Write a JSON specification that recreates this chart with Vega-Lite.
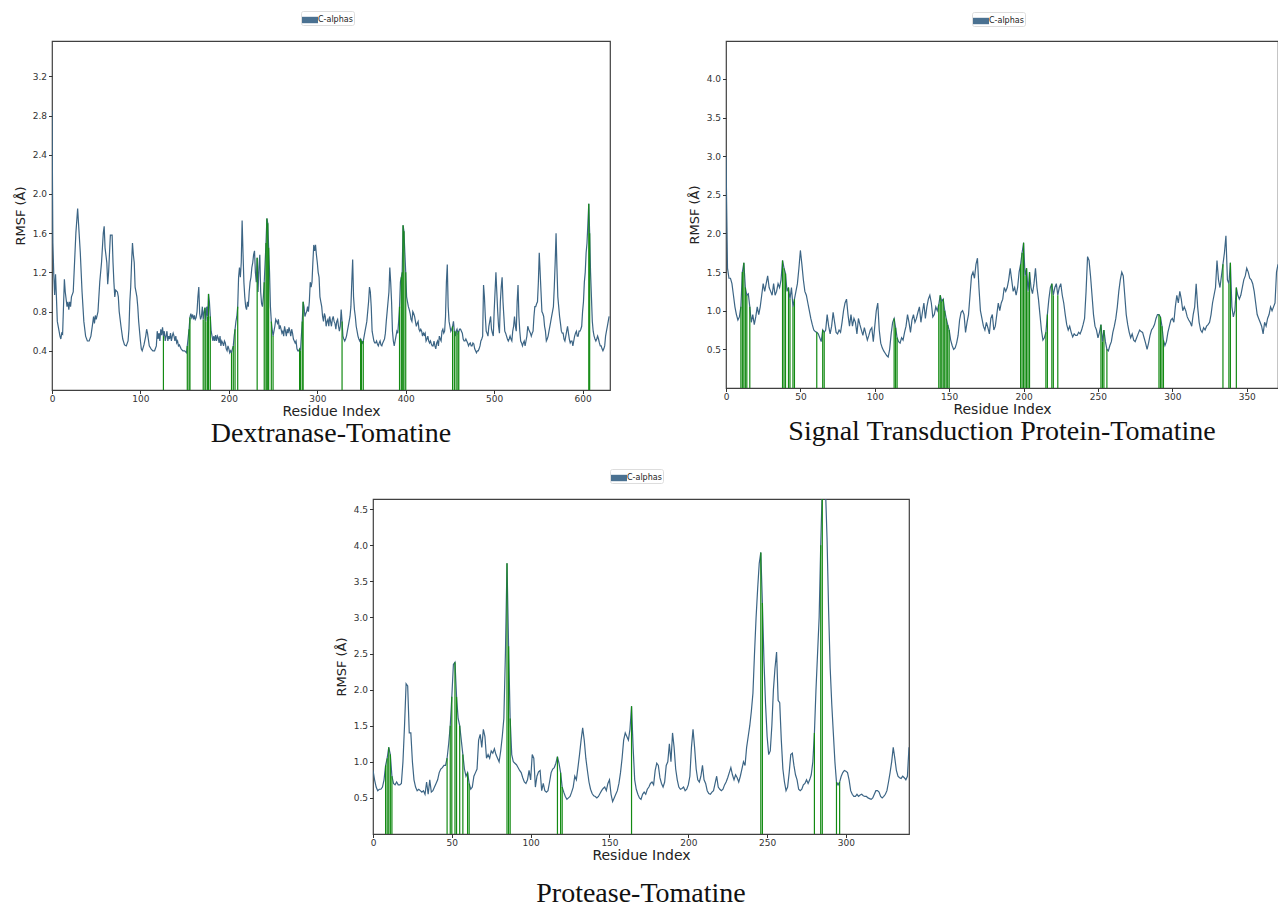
{
"$schema": "https://vega.github.io/schema/vega-lite/v6.json",
"background": "white",
"padding": {"left": 13, "top": 9, "right": 0, "bottom": 0},
"config": {
  "view": {"stroke": "#404040", "strokeWidth": 1.2},
  "axis": {"grid": false, "domain": false, "labelFont": "DejaVu Sans", "labelFontSize": 9, "labelColor": "#333", "tickColor": "#333", "tickSize": 3.5, "labelPadding": 1, "titleFont": "DejaVu Sans", "titleFontSize": 14, "titleFontWeight": "normal", "titleColor": "#222", "titlePadding": 1},
  "axisX": {"labelFlush": false},
  "axisY": {"titleFontSize": 13, "titlePadding": 5, "labelPadding": 2},
  "title": {"font": "Liberation Serif", "fontSize": 28, "fontWeight": "normal", "color": "#111", "anchor": "middle"},
  "legend": {"title": null, "orient": "none", "symbolType": "M-1,-0.4H1V0.4H-1Z", "symbolSize": 256, "labelFont": "DejaVu Sans", "labelFontSize": 8, "labelColor": "#222", "strokeColor": "#dddddd", "padding": 1, "cornerRadius": 2, "labelOffset": 0, "symbolStrokeWidth": 0}
},
"datasets": {
"p1": [
{"r":0,"v":2.85},{"r":1,"v":1.5},{"r":2,"v":1.18},{"r":3,"v":0.97},{"r":4,"v":1.18},{"r":5,"v":0.95},{"r":6,"v":0.7},{"r":8,"v":0.6},{"r":9,"v":0.55},{"r":10,"v":0.52},{"r":11,"v":0.58},{"r":12,"v":0.57},{"r":14,"v":1.13},{"r":15,"v":1.0},{"r":17,"v":0.85},{"r":18,"v":0.9},{"r":19,"v":0.82},{"r":20,"v":0.9},{"r":21,"v":0.85},{"r":22,"v":0.95},{"r":24,"v":1.0},{"r":25,"v":1.2},{"r":27,"v":1.6},{"r":29,"v":1.85},{"r":30,"v":1.7},{"r":32,"v":1.4},{"r":34,"v":1.0},{"r":36,"v":0.7},{"r":38,"v":0.55},{"r":40,"v":0.5},{"r":42,"v":0.5},{"r":44,"v":0.55},{"r":46,"v":0.68},{"r":47,"v":0.75},{"r":48,"v":0.68},{"r":49,"v":0.76},{"r":50,"v":0.72},{"r":52,"v":0.8},{"r":54,"v":1.1},{"r":56,"v":1.3},{"r":58,"v":1.6},{"r":59,"v":1.67},{"r":60,"v":1.45},{"r":62,"v":1.3},{"r":63,"v":1.08},{"r":64,"v":1.2},{"r":66,"v":1.58},{"r":68,"v":1.58},{"r":69,"v":1.3},{"r":70,"v":1.1},{"r":71,"v":0.95},{"r":72,"v":1.02},{"r":74,"v":1.0},{"r":75,"v":0.95},{"r":76,"v":0.8},{"r":78,"v":0.65},{"r":80,"v":0.52},{"r":82,"v":0.46},{"r":84,"v":0.45},{"r":86,"v":0.5},{"r":87,"v":0.62},{"r":88,"v":0.9},{"r":89,"v":1.05},{"r":90,"v":1.3},{"r":91,"v":1.5},{"r":92,"v":1.38},{"r":93,"v":1.3},{"r":94,"v":1.05},{"r":95,"v":1.0},{"r":96,"v":0.95},{"r":97,"v":0.85},{"r":98,"v":0.7},{"r":100,"v":0.5},{"r":101,"v":0.42},{"r":102,"v":0.4},{"r":104,"v":0.46},{"r":106,"v":0.55},{"r":107,"v":0.62},{"r":108,"v":0.58},{"r":110,"v":0.45},{"r":112,"v":0.42},{"r":114,"v":0.4},{"r":116,"v":0.4},{"r":118,"v":0.45},{"r":119,"v":0.6},{"r":120,"v":0.52},{"r":121,"v":0.58},{"r":122,"v":0.5},{"r":123,"v":0.62},{"r":124,"v":0.56},{"r":125,"v":0.64},{"r":126,"v":0.55},{"r":127,"v":0.6},{"r":128,"v":0.5},{"r":129,"v":0.55},{"r":130,"v":0.6},{"r":131,"v":0.5},{"r":132,"v":0.55},{"r":133,"v":0.52},{"r":134,"v":0.58},{"r":135,"v":0.5},{"r":136,"v":0.55},{"r":137,"v":0.58},{"r":138,"v":0.55},{"r":139,"v":0.5},{"r":140,"v":0.55},{"r":141,"v":0.48},{"r":142,"v":0.5},{"r":143,"v":0.45},{"r":144,"v":0.46},{"r":146,"v":0.42},{"r":148,"v":0.4},{"r":150,"v":0.4},{"r":152,"v":0.38},{"r":153,"v":0.45},{"r":155,"v":0.62},{"r":156,"v":0.74},{"r":157,"v":0.78},{"r":158,"v":0.74},{"r":159,"v":0.77},{"r":160,"v":0.72},{"r":161,"v":0.76},{"r":162,"v":0.72},{"r":163,"v":0.74},{"r":164,"v":0.8},{"r":165,"v":0.95},{"r":166,"v":1.05},{"r":167,"v":0.78},{"r":168,"v":0.72},{"r":169,"v":0.75},{"r":170,"v":0.85},{"r":171,"v":0.72},{"r":172,"v":0.8},{"r":173,"v":0.84},{"r":174,"v":0.7},{"r":175,"v":0.85},{"r":176,"v":0.75},{"r":177,"v":0.98},{"r":178,"v":0.9},{"r":179,"v":0.75},{"r":180,"v":0.6},{"r":181,"v":0.55},{"r":182,"v":0.5},{"r":183,"v":0.55},{"r":184,"v":0.5},{"r":185,"v":0.56},{"r":186,"v":0.5},{"r":187,"v":0.55},{"r":188,"v":0.53},{"r":189,"v":0.48},{"r":190,"v":0.55},{"r":191,"v":0.45},{"r":192,"v":0.5},{"r":193,"v":0.48},{"r":194,"v":0.45},{"r":195,"v":0.5},{"r":196,"v":0.48},{"r":197,"v":0.42},{"r":198,"v":0.4},{"r":199,"v":0.45},{"r":200,"v":0.42},{"r":201,"v":0.38},{"r":202,"v":0.4},{"r":203,"v":0.38},{"r":204,"v":0.42},{"r":205,"v":0.45},{"r":206,"v":0.55},{"r":207,"v":0.62},{"r":208,"v":0.7},{"r":209,"v":0.75},{"r":210,"v":0.85},{"r":211,"v":1.15},{"r":212,"v":1.25},{"r":213,"v":1.15},{"r":214,"v":1.3},{"r":215,"v":1.73},{"r":216,"v":1.4},{"r":217,"v":1.1},{"r":218,"v":0.95},{"r":219,"v":0.85},{"r":220,"v":0.82},{"r":221,"v":0.9},{"r":222,"v":0.85},{"r":223,"v":1.0},{"r":224,"v":1.1},{"r":225,"v":1.15},{"r":226,"v":1.25},{"r":227,"v":1.3},{"r":228,"v":1.38},{"r":229,"v":1.42},{"r":230,"v":1.2},{"r":231,"v":1.1},{"r":232,"v":1.35},{"r":233,"v":1.0},{"r":234,"v":1.25},{"r":235,"v":1.38},{"r":236,"v":1.0},{"r":237,"v":0.88},{"r":238,"v":0.85},{"r":239,"v":0.95},{"r":240,"v":1.1},{"r":241,"v":1.3},{"r":242,"v":1.5},{"r":243,"v":1.75},{"r":244,"v":1.7},{"r":245,"v":1.45},{"r":246,"v":1.2},{"r":247,"v":0.85},{"r":248,"v":0.7},{"r":249,"v":0.62},{"r":250,"v":0.55},{"r":251,"v":0.6},{"r":252,"v":0.65},{"r":253,"v":0.72},{"r":254,"v":0.7},{"r":255,"v":0.68},{"r":256,"v":0.72},{"r":257,"v":0.62},{"r":258,"v":0.66},{"r":259,"v":0.62},{"r":260,"v":0.58},{"r":261,"v":0.6},{"r":262,"v":0.55},{"r":263,"v":0.65},{"r":264,"v":0.6},{"r":265,"v":0.55},{"r":266,"v":0.62},{"r":267,"v":0.58},{"r":268,"v":0.64},{"r":269,"v":0.6},{"r":270,"v":0.55},{"r":271,"v":0.62},{"r":272,"v":0.58},{"r":273,"v":0.52},{"r":274,"v":0.5},{"r":275,"v":0.48},{"r":276,"v":0.5},{"r":277,"v":0.42},{"r":278,"v":0.4},{"r":279,"v":0.4},{"r":280,"v":0.42},{"r":281,"v":0.4},{"r":282,"v":0.55},{"r":283,"v":0.7},{"r":284,"v":0.9},{"r":285,"v":0.85},{"r":286,"v":0.75},{"r":287,"v":0.78},{"r":288,"v":0.8},{"r":289,"v":0.85},{"r":290,"v":0.8},{"r":291,"v":0.9},{"r":292,"v":1.1},{"r":293,"v":1.05},{"r":294,"v":1.1},{"r":295,"v":1.3},{"r":296,"v":1.48},{"r":297,"v":1.42},{"r":298,"v":1.48},{"r":299,"v":1.38},{"r":300,"v":1.3},{"r":301,"v":1.2},{"r":302,"v":1.15},{"r":303,"v":0.95},{"r":304,"v":0.9},{"r":305,"v":0.85},{"r":306,"v":0.75},{"r":307,"v":0.7},{"r":308,"v":0.78},{"r":309,"v":0.75},{"r":310,"v":0.65},{"r":311,"v":0.7},{"r":312,"v":0.72},{"r":313,"v":0.65},{"r":314,"v":0.75},{"r":315,"v":0.7},{"r":316,"v":0.65},{"r":317,"v":0.72},{"r":318,"v":0.75},{"r":319,"v":0.7},{"r":320,"v":0.68},{"r":321,"v":0.62},{"r":322,"v":0.7},{"r":323,"v":0.72},{"r":324,"v":0.65},{"r":325,"v":0.6},{"r":326,"v":0.65},{"r":327,"v":0.82},{"r":328,"v":0.7},{"r":329,"v":0.55},{"r":330,"v":0.52},{"r":331,"v":0.5},{"r":332,"v":0.52},{"r":333,"v":0.55},{"r":334,"v":0.6},{"r":335,"v":0.65},{"r":336,"v":0.7},{"r":337,"v":0.75},{"r":338,"v":0.85},{"r":339,"v":1.1},{"r":340,"v":1.33},{"r":341,"v":0.95},{"r":342,"v":0.82},{"r":343,"v":0.75},{"r":344,"v":0.65},{"r":345,"v":0.6},{"r":346,"v":0.55},{"r":347,"v":0.52},{"r":348,"v":0.5},{"r":349,"v":0.52},{"r":350,"v":0.5},{"r":351,"v":0.48},{"r":352,"v":0.5},{"r":353,"v":0.55},{"r":354,"v":0.6},{"r":355,"v":0.65},{"r":356,"v":0.7},{"r":357,"v":0.8},{"r":358,"v":0.9},{"r":359,"v":1.05},{"r":360,"v":1.0},{"r":361,"v":0.85},{"r":362,"v":0.6},{"r":363,"v":0.55},{"r":364,"v":0.5},{"r":365,"v":0.48},{"r":366,"v":0.48},{"r":367,"v":0.5},{"r":368,"v":0.47},{"r":369,"v":0.45},{"r":370,"v":0.48},{"r":371,"v":0.5},{"r":372,"v":0.46},{"r":373,"v":0.45},{"r":374,"v":0.48},{"r":375,"v":0.5},{"r":376,"v":0.52},{"r":377,"v":0.58},{"r":378,"v":0.7},{"r":379,"v":0.8},{"r":380,"v":0.9},{"r":381,"v":1.0},{"r":382,"v":1.25},{"r":383,"v":1.1},{"r":384,"v":0.9},{"r":385,"v":0.6},{"r":386,"v":0.5},{"r":387,"v":0.45},{"r":388,"v":0.5},{"r":389,"v":0.55},{"r":390,"v":0.6},{"r":391,"v":0.58},{"r":392,"v":0.7},{"r":393,"v":0.85},{"r":394,"v":1.1},{"r":395,"v":1.15},{"r":396,"v":1.2},{"r":397,"v":1.68},{"r":398,"v":1.62},{"r":399,"v":1.4},{"r":400,"v":1.2},{"r":401,"v":0.95},{"r":402,"v":0.9},{"r":403,"v":0.85},{"r":404,"v":0.82},{"r":405,"v":0.78},{"r":406,"v":0.72},{"r":407,"v":0.7},{"r":408,"v":0.8},{"r":409,"v":0.78},{"r":410,"v":0.75},{"r":411,"v":0.7},{"r":412,"v":0.65},{"r":413,"v":0.68},{"r":414,"v":0.7},{"r":415,"v":0.62},{"r":416,"v":0.6},{"r":417,"v":0.62},{"r":418,"v":0.6},{"r":419,"v":0.55},{"r":420,"v":0.58},{"r":421,"v":0.56},{"r":422,"v":0.58},{"r":423,"v":0.5},{"r":424,"v":0.52},{"r":425,"v":0.55},{"r":426,"v":0.5},{"r":427,"v":0.48},{"r":428,"v":0.5},{"r":429,"v":0.47},{"r":430,"v":0.45},{"r":431,"v":0.45},{"r":432,"v":0.5},{"r":433,"v":0.45},{"r":434,"v":0.42},{"r":435,"v":0.48},{"r":436,"v":0.5},{"r":437,"v":0.45},{"r":438,"v":0.55},{"r":439,"v":0.52},{"r":440,"v":0.5},{"r":441,"v":0.6},{"r":442,"v":0.62},{"r":443,"v":0.58},{"r":444,"v":0.6},{"r":445,"v":0.75},{"r":446,"v":1.1},{"r":447,"v":1.28},{"r":448,"v":0.85},{"r":449,"v":0.7},{"r":450,"v":0.65},{"r":451,"v":0.6},{"r":452,"v":0.62},{"r":453,"v":0.65},{"r":454,"v":0.7},{"r":455,"v":0.6},{"r":456,"v":0.55},{"r":457,"v":0.6},{"r":458,"v":0.62},{"r":459,"v":0.58},{"r":460,"v":0.6},{"r":461,"v":0.62},{"r":462,"v":0.62},{"r":463,"v":0.6},{"r":464,"v":0.58},{"r":465,"v":0.52},{"r":466,"v":0.5},{"r":467,"v":0.5},{"r":468,"v":0.52},{"r":469,"v":0.5},{"r":470,"v":0.48},{"r":471,"v":0.45},{"r":472,"v":0.47},{"r":473,"v":0.48},{"r":474,"v":0.45},{"r":475,"v":0.45},{"r":476,"v":0.48},{"r":477,"v":0.47},{"r":478,"v":0.42},{"r":479,"v":0.4},{"r":480,"v":0.38},{"r":481,"v":0.4},{"r":482,"v":0.4},{"r":483,"v":0.42},{"r":484,"v":0.45},{"r":485,"v":0.5},{"r":486,"v":0.52},{"r":487,"v":0.55},{"r":488,"v":1.07},{"r":489,"v":0.95},{"r":490,"v":0.75},{"r":491,"v":0.6},{"r":492,"v":0.58},{"r":493,"v":0.55},{"r":494,"v":0.65},{"r":495,"v":0.7},{"r":496,"v":0.75},{"r":497,"v":0.62},{"r":498,"v":0.58},{"r":499,"v":0.55},{"r":500,"v":0.8},{"r":501,"v":1.0},{"r":502,"v":1.2},{"r":503,"v":1.0},{"r":504,"v":0.8},{"r":505,"v":0.65},{"r":506,"v":0.58},{"r":507,"v":0.9},{"r":508,"v":1.05},{"r":509,"v":1.15},{"r":510,"v":0.9},{"r":511,"v":0.75},{"r":512,"v":0.6},{"r":513,"v":0.58},{"r":514,"v":0.55},{"r":515,"v":0.52},{"r":516,"v":0.5},{"r":517,"v":0.52},{"r":518,"v":0.55},{"r":519,"v":0.52},{"r":520,"v":0.5},{"r":521,"v":0.6},{"r":522,"v":0.65},{"r":523,"v":0.75},{"r":524,"v":0.65},{"r":525,"v":0.6},{"r":526,"v":0.9},{"r":527,"v":1.07},{"r":528,"v":0.75},{"r":529,"v":0.6},{"r":530,"v":0.5},{"r":531,"v":0.48},{"r":532,"v":0.45},{"r":533,"v":0.48},{"r":534,"v":0.5},{"r":535,"v":0.45},{"r":536,"v":0.5},{"r":537,"v":0.55},{"r":538,"v":0.65},{"r":539,"v":0.62},{"r":540,"v":0.6},{"r":541,"v":0.58},{"r":542,"v":0.55},{"r":543,"v":0.58},{"r":544,"v":0.6},{"r":545,"v":0.75},{"r":546,"v":0.85},{"r":547,"v":0.85},{"r":548,"v":0.88},{"r":549,"v":0.9},{"r":550,"v":1.1},{"r":551,"v":1.4},{"r":552,"v":1.2},{"r":553,"v":1.0},{"r":554,"v":0.8},{"r":555,"v":0.78},{"r":556,"v":0.75},{"r":557,"v":0.65},{"r":558,"v":0.6},{"r":559,"v":0.5},{"r":560,"v":0.52},{"r":561,"v":0.55},{"r":562,"v":0.6},{"r":563,"v":0.65},{"r":564,"v":0.7},{"r":565,"v":0.75},{"r":566,"v":0.8},{"r":567,"v":0.85},{"r":568,"v":1.05},{"r":569,"v":1.3},{"r":570,"v":1.6},{"r":571,"v":1.25},{"r":572,"v":0.95},{"r":573,"v":0.85},{"r":574,"v":0.75},{"r":575,"v":0.68},{"r":576,"v":0.6},{"r":577,"v":0.58},{"r":578,"v":0.58},{"r":579,"v":0.52},{"r":580,"v":0.5},{"r":581,"v":0.55},{"r":582,"v":0.6},{"r":583,"v":0.65},{"r":584,"v":0.58},{"r":585,"v":0.52},{"r":586,"v":0.48},{"r":587,"v":0.5},{"r":588,"v":0.5},{"r":589,"v":0.45},{"r":590,"v":0.5},{"r":591,"v":0.55},{"r":592,"v":0.58},{"r":593,"v":0.6},{"r":594,"v":0.55},{"r":595,"v":0.55},{"r":596,"v":0.6},{"r":597,"v":0.6},{"r":598,"v":0.62},{"r":599,"v":0.65},{"r":600,"v":0.8},{"r":601,"v":0.9},{"r":602,"v":1.1},{"r":603,"v":1.2},{"r":604,"v":1.4},{"r":605,"v":1.5},{"r":606,"v":1.7},{"r":607,"v":1.9},{"r":608,"v":1.6},{"r":609,"v":1.2},{"r":610,"v":0.95},{"r":611,"v":0.7},{"r":612,"v":0.6},{"r":613,"v":0.55},{"r":614,"v":0.52},{"r":615,"v":0.5},{"r":616,"v":0.52},{"r":617,"v":0.55},{"r":618,"v":0.52},{"r":619,"v":0.48},{"r":620,"v":0.45},{"r":621,"v":0.45},{"r":622,"v":0.42},{"r":623,"v":0.4},{"r":624,"v":0.42},{"r":625,"v":0.45},{"r":626,"v":0.55},{"r":627,"v":0.6},{"r":628,"v":0.65},{"r":629,"v":0.7},{"r":630,"v":0.75}
],
"b1": [
{"r":126,"v":0.55},{"r":153,"v":0.45},{"r":155,"v":0.62},{"r":156,"v":0.74},{"r":171,"v":0.72},{"r":173,"v":0.84},{"r":174,"v":0.7},{"r":176,"v":0.75},{"r":177,"v":0.98},{"r":179,"v":0.75},{"r":203,"v":0.38},{"r":205,"v":0.45},{"r":207,"v":0.62},{"r":210,"v":0.85},{"r":232,"v":1.35},{"r":240,"v":1.1},{"r":242,"v":1.5},{"r":243,"v":1.75},{"r":244,"v":1.7},{"r":245,"v":1.45},{"r":248,"v":0.7},{"r":250,"v":0.55},{"r":280,"v":0.42},{"r":281,"v":0.4},{"r":283,"v":0.7},{"r":284,"v":0.9},{"r":328,"v":0.7},{"r":349,"v":0.52},{"r":350,"v":0.5},{"r":352,"v":0.5},{"r":393,"v":0.85},{"r":395,"v":1.15},{"r":396,"v":1.2},{"r":397,"v":1.68},{"r":398,"v":1.62},{"r":400,"v":1.2},{"r":453,"v":0.65},{"r":455,"v":0.6},{"r":457,"v":0.6},{"r":459,"v":0.58},{"r":460,"v":0.6},{"r":607,"v":1.9},{"r":608,"v":1.6}
],
"p2": [
{"r":0,"v":3.0},{"r":1,"v":1.55},{"r":2,"v":1.42},{"r":3,"v":1.42},{"r":4,"v":1.35},{"r":5,"v":1.2},{"r":6,"v":1.05},{"r":7,"v":0.95},{"r":8,"v":0.88},{"r":9,"v":0.92},{"r":10,"v":1.05},{"r":11,"v":1.5},{"r":12,"v":1.62},{"r":13,"v":1.3},{"r":14,"v":1.2},{"r":15,"v":1.22},{"r":16,"v":1.05},{"r":17,"v":0.85},{"r":18,"v":0.95},{"r":19,"v":0.82},{"r":20,"v":0.92},{"r":21,"v":1.05},{"r":22,"v":0.95},{"r":23,"v":1.05},{"r":24,"v":1.2},{"r":25,"v":1.35},{"r":26,"v":1.25},{"r":27,"v":1.35},{"r":28,"v":1.45},{"r":29,"v":1.3},{"r":30,"v":1.25},{"r":31,"v":1.2},{"r":32,"v":1.35},{"r":33,"v":1.2},{"r":34,"v":1.25},{"r":35,"v":1.35},{"r":36,"v":1.3},{"r":37,"v":1.4},{"r":38,"v":1.65},{"r":39,"v":1.55},{"r":40,"v":1.48},{"r":41,"v":1.25},{"r":42,"v":1.3},{"r":43,"v":1.15},{"r":44,"v":1.3},{"r":45,"v":1.05},{"r":46,"v":1.15},{"r":47,"v":1.25},{"r":48,"v":1.35},{"r":49,"v":1.55},{"r":50,"v":1.78},{"r":51,"v":1.6},{"r":52,"v":1.4},{"r":53,"v":1.25},{"r":54,"v":1.2},{"r":55,"v":1.1},{"r":56,"v":1.0},{"r":57,"v":0.9},{"r":58,"v":0.82},{"r":59,"v":0.75},{"r":60,"v":0.73},{"r":61,"v":0.72},{"r":62,"v":0.7},{"r":63,"v":0.65},{"r":64,"v":0.6},{"r":65,"v":0.75},{"r":66,"v":0.72},{"r":67,"v":0.75},{"r":68,"v":0.95},{"r":69,"v":0.8},{"r":70,"v":0.7},{"r":71,"v":0.8},{"r":72,"v":0.98},{"r":73,"v":0.85},{"r":74,"v":0.72},{"r":75,"v":0.7},{"r":76,"v":0.75},{"r":77,"v":0.72},{"r":78,"v":0.85},{"r":79,"v":1.0},{"r":80,"v":1.1},{"r":81,"v":1.15},{"r":82,"v":0.95},{"r":83,"v":0.8},{"r":84,"v":0.95},{"r":85,"v":0.8},{"r":86,"v":0.9},{"r":87,"v":0.85},{"r":88,"v":0.7},{"r":89,"v":0.9},{"r":90,"v":0.82},{"r":91,"v":0.75},{"r":92,"v":0.68},{"r":93,"v":0.78},{"r":94,"v":0.7},{"r":95,"v":0.62},{"r":96,"v":0.68},{"r":97,"v":0.75},{"r":98,"v":0.78},{"r":99,"v":0.6},{"r":100,"v":0.8},{"r":101,"v":1.0},{"r":102,"v":1.1},{"r":103,"v":0.75},{"r":104,"v":0.58},{"r":105,"v":0.52},{"r":106,"v":0.48},{"r":107,"v":0.45},{"r":108,"v":0.42},{"r":109,"v":0.4},{"r":110,"v":0.5},{"r":111,"v":0.7},{"r":112,"v":0.85},{"r":113,"v":0.9},{"r":114,"v":0.78},{"r":115,"v":0.65},{"r":116,"v":0.6},{"r":117,"v":0.58},{"r":118,"v":0.65},{"r":119,"v":0.62},{"r":120,"v":0.72},{"r":121,"v":0.8},{"r":122,"v":0.95},{"r":123,"v":0.85},{"r":124,"v":0.72},{"r":125,"v":0.88},{"r":126,"v":0.95},{"r":127,"v":0.85},{"r":128,"v":0.9},{"r":129,"v":0.98},{"r":130,"v":1.05},{"r":131,"v":0.85},{"r":132,"v":0.98},{"r":133,"v":1.1},{"r":134,"v":0.9},{"r":135,"v":1.05},{"r":136,"v":1.15},{"r":137,"v":1.2},{"r":138,"v":1.1},{"r":139,"v":0.92},{"r":140,"v":0.95},{"r":141,"v":1.05},{"r":142,"v":1.0},{"r":143,"v":1.08},{"r":144,"v":1.2},{"r":145,"v":1.12},{"r":146,"v":1.15},{"r":147,"v":1.0},{"r":148,"v":0.9},{"r":149,"v":0.82},{"r":150,"v":0.75},{"r":151,"v":0.62},{"r":152,"v":0.55},{"r":153,"v":0.5},{"r":154,"v":0.52},{"r":155,"v":0.58},{"r":156,"v":0.68},{"r":157,"v":0.88},{"r":158,"v":0.98},{"r":159,"v":1.0},{"r":160,"v":0.95},{"r":161,"v":0.72},{"r":162,"v":0.85},{"r":163,"v":0.95},{"r":164,"v":1.2},{"r":165,"v":1.45},{"r":166,"v":1.5},{"r":167,"v":1.42},{"r":168,"v":1.6},{"r":169,"v":1.68},{"r":170,"v":1.3},{"r":171,"v":1.0},{"r":172,"v":0.9},{"r":173,"v":0.8},{"r":174,"v":0.75},{"r":175,"v":0.85},{"r":176,"v":0.78},{"r":177,"v":0.7},{"r":178,"v":0.9},{"r":179,"v":0.95},{"r":180,"v":0.75},{"r":181,"v":0.8},{"r":182,"v":0.95},{"r":183,"v":1.1},{"r":184,"v":1.0},{"r":185,"v":1.1},{"r":186,"v":1.15},{"r":187,"v":1.3},{"r":188,"v":1.25},{"r":189,"v":1.3},{"r":190,"v":1.4},{"r":191,"v":1.55},{"r":192,"v":1.4},{"r":193,"v":1.25},{"r":194,"v":1.3},{"r":195,"v":1.2},{"r":196,"v":1.3},{"r":197,"v":1.5},{"r":198,"v":1.6},{"r":199,"v":1.75},{"r":200,"v":1.88},{"r":201,"v":1.45},{"r":202,"v":1.55},{"r":203,"v":1.25},{"r":204,"v":1.5},{"r":205,"v":1.3},{"r":206,"v":1.22},{"r":207,"v":1.35},{"r":208,"v":1.55},{"r":209,"v":1.3},{"r":210,"v":1.15},{"r":211,"v":0.95},{"r":212,"v":0.75},{"r":213,"v":0.62},{"r":214,"v":0.65},{"r":215,"v":0.72},{"r":216,"v":0.95},{"r":217,"v":1.15},{"r":218,"v":1.3},{"r":219,"v":1.35},{"r":220,"v":1.2},{"r":221,"v":1.3},{"r":222,"v":1.35},{"r":223,"v":1.2},{"r":224,"v":1.3},{"r":225,"v":1.35},{"r":226,"v":1.2},{"r":227,"v":1.1},{"r":228,"v":0.95},{"r":229,"v":0.82},{"r":230,"v":0.75},{"r":231,"v":0.8},{"r":232,"v":0.72},{"r":233,"v":0.66},{"r":234,"v":0.7},{"r":235,"v":0.68},{"r":236,"v":0.68},{"r":237,"v":0.72},{"r":238,"v":0.7},{"r":239,"v":0.75},{"r":240,"v":0.82},{"r":241,"v":0.9},{"r":242,"v":1.25},{"r":243,"v":1.7},{"r":244,"v":1.65},{"r":245,"v":1.45},{"r":246,"v":1.2},{"r":247,"v":0.95},{"r":248,"v":0.8},{"r":249,"v":0.75},{"r":250,"v":0.65},{"r":251,"v":0.72},{"r":252,"v":0.82},{"r":253,"v":0.6},{"r":254,"v":0.75},{"r":255,"v":0.6},{"r":256,"v":0.5},{"r":257,"v":0.48},{"r":258,"v":0.55},{"r":259,"v":0.6},{"r":260,"v":0.72},{"r":261,"v":0.8},{"r":262,"v":0.9},{"r":263,"v":1.05},{"r":264,"v":1.25},{"r":265,"v":1.4},{"r":266,"v":1.5},{"r":267,"v":1.45},{"r":268,"v":1.2},{"r":269,"v":0.95},{"r":270,"v":0.82},{"r":271,"v":0.72},{"r":272,"v":0.65},{"r":273,"v":0.7},{"r":274,"v":0.62},{"r":275,"v":0.6},{"r":276,"v":0.65},{"r":277,"v":0.7},{"r":278,"v":0.75},{"r":279,"v":0.73},{"r":280,"v":0.72},{"r":281,"v":0.65},{"r":282,"v":0.58},{"r":283,"v":0.5},{"r":284,"v":0.58},{"r":285,"v":0.68},{"r":286,"v":0.75},{"r":287,"v":0.78},{"r":288,"v":0.82},{"r":289,"v":0.9},{"r":290,"v":0.95},{"r":291,"v":0.95},{"r":292,"v":0.92},{"r":293,"v":0.8},{"r":294,"v":0.62},{"r":295,"v":0.55},{"r":296,"v":0.6},{"r":297,"v":0.72},{"r":298,"v":0.8},{"r":299,"v":0.88},{"r":300,"v":0.9},{"r":301,"v":0.85},{"r":302,"v":1.05},{"r":303,"v":1.2},{"r":304,"v":1.1},{"r":305,"v":1.25},{"r":306,"v":1.15},{"r":307,"v":1.0},{"r":308,"v":1.05},{"r":309,"v":1.0},{"r":310,"v":0.92},{"r":311,"v":0.88},{"r":312,"v":0.85},{"r":313,"v":0.8},{"r":314,"v":0.95},{"r":315,"v":1.05},{"r":316,"v":1.35},{"r":317,"v":1.05},{"r":318,"v":0.85},{"r":319,"v":0.75},{"r":320,"v":0.72},{"r":321,"v":0.78},{"r":322,"v":0.75},{"r":323,"v":0.8},{"r":324,"v":0.82},{"r":325,"v":0.85},{"r":326,"v":0.95},{"r":327,"v":1.1},{"r":328,"v":1.2},{"r":329,"v":1.3},{"r":330,"v":1.65},{"r":331,"v":1.4},{"r":332,"v":1.3},{"r":333,"v":1.45},{"r":334,"v":1.6},{"r":335,"v":1.75},{"r":336,"v":1.97},{"r":337,"v":1.4},{"r":338,"v":1.35},{"r":339,"v":1.62},{"r":340,"v":1.05},{"r":341,"v":0.92},{"r":342,"v":1.0},{"r":343,"v":1.3},{"r":344,"v":1.2},{"r":345,"v":1.15},{"r":346,"v":1.2},{"r":347,"v":1.3},{"r":348,"v":1.4},{"r":349,"v":1.45},{"r":350,"v":1.55},{"r":351,"v":1.5},{"r":352,"v":1.42},{"r":353,"v":1.4},{"r":354,"v":1.35},{"r":355,"v":1.25},{"r":356,"v":1.1},{"r":357,"v":0.95},{"r":358,"v":0.9},{"r":359,"v":0.85},{"r":360,"v":0.8},{"r":361,"v":0.7},{"r":362,"v":0.85},{"r":363,"v":0.8},{"r":364,"v":0.9},{"r":365,"v":0.95},{"r":366,"v":1.05},{"r":367,"v":1.0},{"r":368,"v":1.05},{"r":369,"v":1.1},{"r":370,"v":1.5},{"r":371,"v":1.6}
],
"b2": [
{"r":10,"v":1.05},{"r":11,"v":1.5},{"r":12,"v":1.62},{"r":13,"v":1.3},{"r":14,"v":1.2},{"r":16,"v":1.05},{"r":38,"v":1.65},{"r":39,"v":1.55},{"r":40,"v":1.48},{"r":42,"v":1.3},{"r":43,"v":1.15},{"r":45,"v":1.05},{"r":46,"v":1.15},{"r":61,"v":0.72},{"r":65,"v":0.75},{"r":66,"v":0.72},{"r":113,"v":0.9},{"r":114,"v":0.78},{"r":115,"v":0.65},{"r":143,"v":1.08},{"r":144,"v":1.2},{"r":145,"v":1.12},{"r":146,"v":1.15},{"r":147,"v":1.0},{"r":148,"v":0.9},{"r":149,"v":0.82},{"r":150,"v":0.75},{"r":198,"v":1.6},{"r":199,"v":1.75},{"r":200,"v":1.88},{"r":201,"v":1.45},{"r":202,"v":1.55},{"r":203,"v":1.25},{"r":204,"v":1.5},{"r":215,"v":0.72},{"r":216,"v":0.95},{"r":219,"v":1.35},{"r":220,"v":1.2},{"r":223,"v":1.2},{"r":252,"v":0.82},{"r":253,"v":0.6},{"r":254,"v":0.75},{"r":256,"v":0.5},{"r":291,"v":0.95},{"r":292,"v":0.92},{"r":293,"v":0.8},{"r":294,"v":0.62},{"r":334,"v":1.6},{"r":338,"v":1.35},{"r":339,"v":1.62},{"r":343,"v":1.3}
],
"p3": [
{"r":0,"v":0.88},{"r":1,"v":0.75},{"r":2,"v":0.65},{"r":3,"v":0.6},{"r":4,"v":0.62},{"r":5,"v":0.62},{"r":6,"v":0.65},{"r":7,"v":0.75},{"r":8,"v":0.95},{"r":9,"v":1.05},{"r":10,"v":1.2},{"r":11,"v":1.1},{"r":12,"v":0.8},{"r":13,"v":0.7},{"r":14,"v":0.68},{"r":15,"v":0.72},{"r":16,"v":0.68},{"r":17,"v":0.68},{"r":18,"v":0.7},{"r":19,"v":1.0},{"r":20,"v":1.5},{"r":21,"v":2.08},{"r":22,"v":2.05},{"r":23,"v":1.4},{"r":24,"v":1.4},{"r":25,"v":1.0},{"r":26,"v":0.75},{"r":27,"v":0.65},{"r":28,"v":0.6},{"r":29,"v":0.62},{"r":30,"v":0.6},{"r":31,"v":0.58},{"r":32,"v":0.6},{"r":33,"v":0.55},{"r":34,"v":0.72},{"r":35,"v":0.55},{"r":36,"v":0.75},{"r":37,"v":0.58},{"r":38,"v":0.6},{"r":39,"v":0.65},{"r":40,"v":0.7},{"r":41,"v":0.75},{"r":42,"v":0.85},{"r":43,"v":0.9},{"r":44,"v":0.92},{"r":45,"v":0.95},{"r":46,"v":0.95},{"r":47,"v":1.05},{"r":48,"v":1.25},{"r":49,"v":1.5},{"r":50,"v":1.9},{"r":51,"v":2.35},{"r":52,"v":2.38},{"r":53,"v":1.9},{"r":54,"v":1.6},{"r":55,"v":1.5},{"r":56,"v":1.3},{"r":57,"v":1.1},{"r":58,"v":0.9},{"r":59,"v":0.8},{"r":60,"v":0.85},{"r":61,"v":0.7},{"r":62,"v":0.62},{"r":63,"v":0.65},{"r":64,"v":0.8},{"r":65,"v":0.85},{"r":66,"v":0.9},{"r":67,"v":1.3},{"r":68,"v":1.38},{"r":69,"v":1.2},{"r":70,"v":1.45},{"r":71,"v":1.35},{"r":72,"v":1.05},{"r":73,"v":1.1},{"r":74,"v":1.05},{"r":75,"v":1.15},{"r":76,"v":1.12},{"r":77,"v":1.18},{"r":78,"v":1.1},{"r":79,"v":1.05},{"r":80,"v":1.0},{"r":81,"v":1.15},{"r":82,"v":1.35},{"r":83,"v":1.6},{"r":84,"v":2.5},{"r":85,"v":3.75},{"r":86,"v":2.6},{"r":87,"v":1.6},{"r":88,"v":1.1},{"r":89,"v":1.0},{"r":90,"v":0.98},{"r":91,"v":0.96},{"r":92,"v":0.92},{"r":93,"v":0.88},{"r":94,"v":0.85},{"r":95,"v":0.78},{"r":96,"v":0.72},{"r":97,"v":0.7},{"r":98,"v":0.75},{"r":99,"v":0.88},{"r":100,"v":0.75},{"r":101,"v":1.1},{"r":102,"v":1.05},{"r":103,"v":0.65},{"r":104,"v":0.8},{"r":105,"v":0.86},{"r":106,"v":0.88},{"r":107,"v":0.6},{"r":108,"v":0.7},{"r":109,"v":0.6},{"r":110,"v":0.58},{"r":111,"v":0.6},{"r":112,"v":0.72},{"r":113,"v":0.85},{"r":114,"v":0.9},{"r":115,"v":0.92},{"r":116,"v":0.98},{"r":117,"v":1.07},{"r":118,"v":0.98},{"r":119,"v":0.85},{"r":120,"v":0.65},{"r":121,"v":0.58},{"r":122,"v":0.52},{"r":123,"v":0.48},{"r":124,"v":0.5},{"r":125,"v":0.52},{"r":126,"v":0.58},{"r":127,"v":0.65},{"r":128,"v":0.8},{"r":129,"v":0.75},{"r":130,"v":0.92},{"r":131,"v":1.1},{"r":132,"v":1.3},{"r":133,"v":1.47},{"r":134,"v":1.3},{"r":135,"v":1.05},{"r":136,"v":0.88},{"r":137,"v":0.72},{"r":138,"v":0.62},{"r":139,"v":0.56},{"r":140,"v":0.53},{"r":141,"v":0.52},{"r":142,"v":0.5},{"r":143,"v":0.52},{"r":144,"v":0.56},{"r":145,"v":0.6},{"r":146,"v":0.63},{"r":147,"v":0.65},{"r":148,"v":0.6},{"r":149,"v":0.7},{"r":150,"v":0.75},{"r":151,"v":0.55},{"r":152,"v":0.45},{"r":153,"v":0.5},{"r":154,"v":0.55},{"r":155,"v":0.6},{"r":156,"v":0.7},{"r":157,"v":0.85},{"r":158,"v":1.05},{"r":159,"v":1.3},{"r":160,"v":1.4},{"r":161,"v":1.35},{"r":162,"v":1.3},{"r":163,"v":1.45},{"r":164,"v":1.77},{"r":165,"v":1.2},{"r":166,"v":0.75},{"r":167,"v":0.62},{"r":168,"v":0.55},{"r":169,"v":0.5},{"r":170,"v":0.48},{"r":171,"v":0.55},{"r":172,"v":0.58},{"r":173,"v":0.55},{"r":174,"v":0.62},{"r":175,"v":0.65},{"r":176,"v":0.7},{"r":177,"v":0.72},{"r":178,"v":0.68},{"r":179,"v":0.88},{"r":180,"v":0.98},{"r":181,"v":0.95},{"r":182,"v":0.78},{"r":183,"v":0.7},{"r":184,"v":0.65},{"r":185,"v":0.72},{"r":186,"v":0.95},{"r":187,"v":1.0},{"r":188,"v":1.25},{"r":189,"v":1.0},{"r":190,"v":1.4},{"r":191,"v":1.2},{"r":192,"v":0.9},{"r":193,"v":0.75},{"r":194,"v":0.65},{"r":195,"v":0.62},{"r":196,"v":0.63},{"r":197,"v":0.65},{"r":198,"v":0.6},{"r":199,"v":0.62},{"r":200,"v":0.68},{"r":201,"v":0.8},{"r":202,"v":1.2},{"r":203,"v":1.45},{"r":204,"v":1.2},{"r":205,"v":0.9},{"r":206,"v":0.75},{"r":207,"v":0.72},{"r":208,"v":0.8},{"r":209,"v":0.95},{"r":210,"v":0.75},{"r":211,"v":0.7},{"r":212,"v":0.6},{"r":213,"v":0.56},{"r":214,"v":0.55},{"r":215,"v":0.58},{"r":216,"v":0.6},{"r":217,"v":0.7},{"r":218,"v":0.8},{"r":219,"v":0.65},{"r":220,"v":0.62},{"r":221,"v":0.6},{"r":222,"v":0.62},{"r":223,"v":0.68},{"r":224,"v":0.72},{"r":225,"v":0.78},{"r":226,"v":0.85},{"r":227,"v":0.92},{"r":228,"v":0.82},{"r":229,"v":0.75},{"r":230,"v":0.82},{"r":231,"v":0.78},{"r":232,"v":0.72},{"r":233,"v":0.8},{"r":234,"v":0.9},{"r":235,"v":1.0},{"r":236,"v":0.95},{"r":237,"v":1.2},{"r":238,"v":1.35},{"r":239,"v":1.5},{"r":240,"v":1.7},{"r":241,"v":1.95},{"r":242,"v":2.5},{"r":243,"v":3.0},{"r":244,"v":3.4},{"r":245,"v":3.75},{"r":246,"v":3.9},{"r":247,"v":3.2},{"r":248,"v":2.4},{"r":249,"v":1.8},{"r":250,"v":1.35},{"r":251,"v":1.1},{"r":252,"v":1.15},{"r":253,"v":1.5},{"r":254,"v":2.0},{"r":255,"v":2.3},{"r":256,"v":2.52},{"r":257,"v":1.85},{"r":258,"v":1.82},{"r":259,"v":1.3},{"r":260,"v":0.9},{"r":261,"v":0.72},{"r":262,"v":0.6},{"r":263,"v":0.65},{"r":264,"v":0.85},{"r":265,"v":1.1},{"r":266,"v":1.12},{"r":267,"v":0.95},{"r":268,"v":0.82},{"r":269,"v":0.75},{"r":270,"v":0.62},{"r":271,"v":0.6},{"r":272,"v":0.62},{"r":273,"v":0.68},{"r":274,"v":0.7},{"r":275,"v":0.75},{"r":276,"v":0.7},{"r":277,"v":0.75},{"r":278,"v":0.82},{"r":279,"v":1.0},{"r":280,"v":1.4},{"r":281,"v":2.0},{"r":282,"v":2.5},{"r":283,"v":3.0},{"r":284,"v":4.0},{"r":285,"v":4.8},{"r":286,"v":4.9},{"r":287,"v":4.8},{"r":288,"v":4.1},{"r":289,"v":3.1},{"r":290,"v":2.3},{"r":291,"v":1.8},{"r":292,"v":1.4},{"r":293,"v":1.0},{"r":294,"v":0.72},{"r":295,"v":0.68},{"r":296,"v":0.72},{"r":297,"v":0.8},{"r":298,"v":0.85},{"r":299,"v":0.88},{"r":300,"v":0.87},{"r":301,"v":0.85},{"r":302,"v":0.75},{"r":303,"v":0.6},{"r":304,"v":0.55},{"r":305,"v":0.52},{"r":306,"v":0.52},{"r":307,"v":0.55},{"r":308,"v":0.52},{"r":309,"v":0.54},{"r":310,"v":0.55},{"r":311,"v":0.53},{"r":312,"v":0.52},{"r":313,"v":0.52},{"r":314,"v":0.5},{"r":315,"v":0.49},{"r":316,"v":0.48},{"r":317,"v":0.5},{"r":318,"v":0.55},{"r":319,"v":0.6},{"r":320,"v":0.6},{"r":321,"v":0.58},{"r":322,"v":0.52},{"r":323,"v":0.5},{"r":324,"v":0.52},{"r":325,"v":0.55},{"r":326,"v":0.6},{"r":327,"v":0.72},{"r":328,"v":0.85},{"r":329,"v":1.0},{"r":330,"v":1.2},{"r":331,"v":1.05},{"r":332,"v":0.88},{"r":333,"v":0.8},{"r":334,"v":0.78},{"r":335,"v":0.77},{"r":336,"v":0.8},{"r":337,"v":0.78},{"r":338,"v":0.75},{"r":339,"v":0.8},{"r":340,"v":1.2}
],
"b3": [
{"r":8,"v":0.95},{"r":9,"v":1.05},{"r":10,"v":1.2},{"r":11,"v":1.1},{"r":12,"v":0.8},{"r":47,"v":1.05},{"r":49,"v":1.5},{"r":50,"v":1.9},{"r":52,"v":2.38},{"r":53,"v":1.9},{"r":55,"v":1.5},{"r":57,"v":1.1},{"r":60,"v":0.85},{"r":61,"v":0.7},{"r":85,"v":3.75},{"r":86,"v":2.6},{"r":87,"v":1.6},{"r":117,"v":1.07},{"r":119,"v":0.85},{"r":120,"v":0.65},{"r":164,"v":1.77},{"r":246,"v":3.9},{"r":247,"v":3.2},{"r":280,"v":1.4},{"r":284,"v":4.0},{"r":285,"v":4.8},{"r":294,"v":0.72},{"r":296,"v":0.72}
]
},
"spacing": 18,
"resolve": {"scale": {"color": "independent"}, "legend": {"color": "independent"}},
"vconcat": [
{
"spacing": 76,
"resolve": {"scale": {"color": "independent"}, "legend": {"color": "independent"}},
"hconcat": [
{
"width": 558, "height": 349,
"title": {"text": "Dextranase-Tomatine", "orient": "bottom", "offset": 1},
"layer": [
{"data": {"name": "p1"}, "mark": {"type": "line", "strokeWidth": 1.2, "clip": true},
 "encoding": {
  "x": {"field": "r", "type": "quantitative", "scale": {"domain": [0, 631], "nice": false}, "axis": {"values": [0,100,200,300,400,500,600], "format": "d", "title": "Residue Index"}},
  "y": {"field": "v", "type": "quantitative", "scale": {"domain": [0, 3.56], "nice": false}, "axis": {"values": [0.4,0.8,1.2,1.6,2.0,2.4,2.8,3.2], "format": ".1f", "title": "RMSF (Å)"}},
  "color": {"datum": "C-alphas", "type": "nominal", "scale": {"range": ["#3c6585"]}, "legend": {"legendX": 249, "legendY": -30, "encode": {"symbols": {"update": {"fill": {"value": "#4a7191"}, "stroke": {"value": "#4a7191"}, "strokeWidth": {"value": 0}}}}}}
 }},
{"data": {"name": "b1"}, "mark": {"type": "rule", "color": "#138a13", "strokeWidth": 1.2},
 "encoding": {"x": {"field": "r", "type": "quantitative"}, "y": {"field": "v", "type": "quantitative"}, "y2": {"datum": 0}}}
]
},
{
"width": 552, "height": 347,
"title": {"text": "Signal Transduction Protein-Tomatine", "orient": "bottom", "offset": 1},
"layer": [
{"data": {"name": "p2"}, "mark": {"type": "line", "strokeWidth": 1.2, "clip": true},
 "encoding": {
  "x": {"field": "r", "type": "quantitative", "scale": {"domain": [0, 371], "nice": false}, "axis": {"values": [0,50,100,150,200,250,300,350], "format": "d", "title": "Residue Index"}},
  "y": {"field": "v", "type": "quantitative", "scale": {"domain": [0, 4.49], "nice": false}, "axis": {"values": [0.5,1.0,1.5,2.0,2.5,3.0,3.5,4.0], "format": ".1f", "title": "RMSF (Å)"}},
  "color": {"datum": "C-alphas", "type": "nominal", "scale": {"range": ["#3c6585"]}, "legend": {"legendX": 246, "legendY": -29, "encode": {"symbols": {"update": {"fill": {"value": "#4a7191"}, "stroke": {"value": "#4a7191"}, "strokeWidth": {"value": 0}}}}}}
 }},
{"data": {"name": "b2"}, "mark": {"type": "rule", "color": "#138a13", "strokeWidth": 1.2},
 "encoding": {"x": {"field": "r", "type": "quantitative"}, "y": {"field": "v", "type": "quantitative"}, "y2": {"datum": 0}}}
]
}
]
},
{
"spacing": 0,
"resolve": {"scale": {"color": "independent"}, "legend": {"color": "independent"}},
"hconcat": [
{"width": 282, "height": 20, "data": {"values": [{"a": 0}]}, "mark": {"type": "point", "opacity": 0}, "encoding": {}, "view": {"stroke": null}},
{
"width": 536, "height": 335,
"title": {"text": "Protease-Tomatine", "orient": "bottom", "offset": 17},
"layer": [
{"data": {"name": "p3"}, "mark": {"type": "line", "strokeWidth": 1.2, "clip": true},
 "encoding": {
  "x": {"field": "r", "type": "quantitative", "scale": {"domain": [0, 340], "nice": false}, "axis": {"values": [0,50,100,150,200,250,300], "format": "d", "title": "Residue Index"}},
  "y": {"field": "v", "type": "quantitative", "scale": {"domain": [0, 4.64], "nice": false}, "axis": {"values": [0.5,1.0,1.5,2.0,2.5,3.0,3.5,4.0,4.5], "format": ".1f", "title": "RMSF (Å)"}},
  "color": {"datum": "C-alphas", "type": "nominal", "scale": {"range": ["#3c6585"]}, "legend": {"legendX": 237, "legendY": -30, "encode": {"symbols": {"update": {"fill": {"value": "#4a7191"}, "stroke": {"value": "#4a7191"}, "strokeWidth": {"value": 0}}}}}}
 }},
{"data": {"name": "b3"}, "mark": {"type": "rule", "color": "#138a13", "strokeWidth": 1.2, "clip": true},
 "encoding": {"x": {"field": "r", "type": "quantitative"}, "y": {"field": "v", "type": "quantitative"}, "y2": {"datum": 0}}}
]
}
]
}
]
}
